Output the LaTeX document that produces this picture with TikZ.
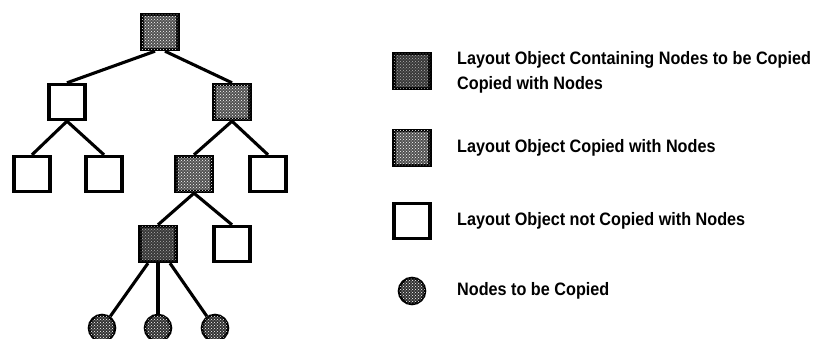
\documentclass[tikz,border=0pt]{standalone}
\usepackage{fontspec}
\setmainfont{Liberation Sans}[FakeStretch=0.9]
\usetikzlibrary{patterns}
\tikzset{
  obj/.style={draw, line width=3.4pt, minimum width=36pt, minimum height=35pt, inner sep=0pt, fill=white},
  copiedbox/.style={obj, fill=black!68, postaction={pattern=crosshatch dots, pattern color=white}},
  containbox/.style={obj, fill=black!78, postaction={pattern=crosshatch dots, pattern color=black!30}},
  nodecirc/.style={circle, draw, line width=2.6pt, minimum size=26pt, inner sep=0pt, fill=black!80, postaction={pattern=crosshatch dots, pattern color=white}},
  link/.style={line width=3.1pt},
  lbl/.style={anchor=west, inner sep=0pt, font=\fontsize{18}{25}\selectfont\bfseries, align=left}
}
\begin{document}
\begin{tikzpicture}[x=1pt, y=-1pt]
\useasboundingbox (0,0) rectangle (816,339);
% tree
\node[copiedbox] (root) at (160,32) {};
\node[obj] (l) at (67,102) {};
\node[copiedbox] (r) at (232,102) {};
\node[obj] (ll) at (32,174) {};
\node[obj] (lr) at (104,174) {};
\node[copiedbox] (rl) at (194,174) {};
\node[obj] (rr) at (268,174) {};
\node[containbox] (c) at (158,244) {};
\node[obj] (cr) at (232,244) {};
\node[nodecirc] (n1) at (102,328) {};
\node[nodecirc] (n2) at (158,328) {};
\node[nodecirc] (n3) at (215,328) {};
\draw[link] ([xshift=-5pt]root.south) -- (l.north);
\draw[link] ([xshift=5pt]root.south) -- (r.north);
\draw[link] (l.south) -- (ll.north);
\draw[link] (l.south) -- (lr.north);
\draw[link] (r.south) -- (rl.north);
\draw[link] (r.south) -- (rr.north);
\draw[link] (rl.south) -- (c.north);
\draw[link] (rl.south) -- (cr.north);
\draw[link] ([xshift=-10pt]c.south) -- (n1);
\draw[link] (c.south) -- (n2);
\draw[link] ([xshift=12pt]c.south) -- (n3);
% legend
\node[containbox] (k1) at (412,71) {};
\node[copiedbox] (k2) at (412,148) {};
\node[obj] (k3) at (412,221) {};
\node[nodecirc] (k4) at (412,291) {};
\node[lbl] (t1) at (457,72) {Layout Object Containing Nodes to be Copied\\Copied with Nodes};
\node[lbl] (t2) at (457,148) {Layout Object Copied with Nodes};
\node[lbl] (t3) at (457,221) {Layout Object not Copied with Nodes};
\node[lbl] (t4) at (457,291) {Nodes to be Copied};
\end{tikzpicture}
\end{document}
